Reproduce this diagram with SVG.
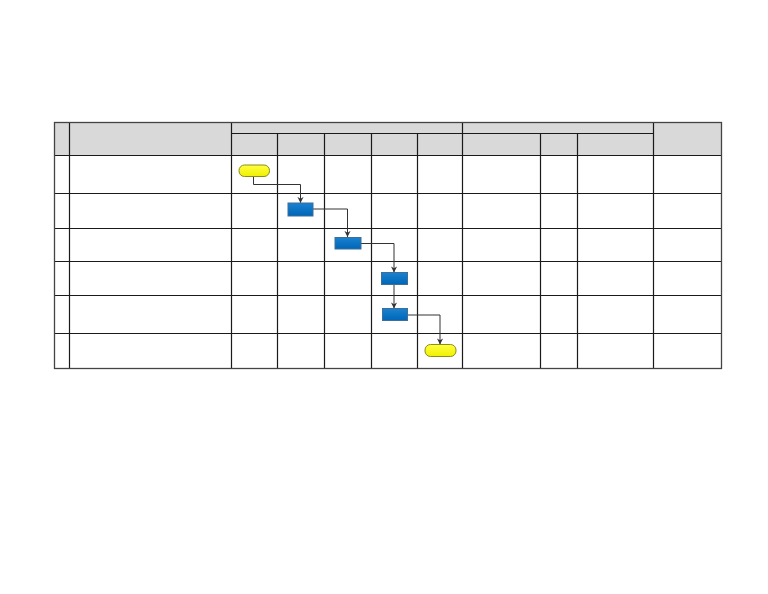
<svg xmlns="http://www.w3.org/2000/svg" width="768" height="594" viewBox="0 0 768 594">
<defs>
<style>
.g{stroke:#1a1a1a;stroke-width:1.2;fill:none}
.hd{fill:#d9d9d9;stroke:none}
.term{fill:url(#yg);stroke:#8c8c1a;stroke-width:1}
.task{fill:url(#bg);stroke:#3d6f99;stroke-width:1}
.c{stroke:#333;stroke-width:1;fill:none;marker-end:url(#ar)}
</style>
<linearGradient id="yg" x1="0" y1="0" x2="0" y2="1"><stop offset="0" stop-color="#ffff40"/><stop offset="1" stop-color="#f0f000"/></linearGradient>
<linearGradient id="bg" x1="0" y1="0" x2="0" y2="1"><stop offset="0" stop-color="#1a82d0"/><stop offset="1" stop-color="#0066b8"/></linearGradient>
<marker id="ar" viewBox="0 0 8 8" refX="7" refY="4" markerWidth="7" markerHeight="7" markerUnits="userSpaceOnUse" orient="auto"><path d="M0,0.5 L7,4 L0,7.5 L2,4 Z" fill="#333"/></marker>
</defs>
<rect width="768" height="594" fill="#fff"/>
<g id="table">
<rect class="hd" x="54.5" y="123" width="667" height="32"/>
<path class="g" d="M69.5,123V368 M231.5,123V368 M462.5,123V368 M653.5,123V368 M277.5,134V368 M324.5,134V368 M371.5,134V368 M417.5,134V368 M540.5,134V368 M577.5,134V368 M231.5,133.5H653.5 M54.5,155.5H721.5 M54.5,193.5H721.5 M54.5,228.5H721.5 M54.5,261.5H721.5 M54.5,295.5H721.5 M54.5,333.5H721.5"/>
<rect x="54.5" y="122.5" width="667" height="246" fill="none" stroke="#444" stroke-width="1.3"/>
</g>
<g id="connectors">
<path class="c" d="M253.5,176.5V184.5H300.5V203"/>
<path class="c" d="M313,209H347.5V237"/>
<path class="c" d="M361,243.5H394V272.5"/>
<path class="c" d="M394,284.5V308.5"/>
<path class="c" d="M407.5,315H440V344.5"/>
</g>
<g id="start"><rect class="term" x="239" y="165" width="30.5" height="11.5" rx="5.5"/></g>
<g id="task1"><rect class="task" x="288" y="203" width="25" height="13"/></g>
<g id="task2"><rect class="task" x="335" y="237.5" width="26" height="11.5"/></g>
<g id="task3"><rect class="task" x="381.5" y="272.5" width="26" height="12"/></g>
<g id="task4"><rect class="task" x="382.5" y="308.5" width="25" height="12"/></g>
<g id="end"><rect class="term" x="425" y="344.5" width="31" height="12" rx="5.5"/></g>
</svg>
